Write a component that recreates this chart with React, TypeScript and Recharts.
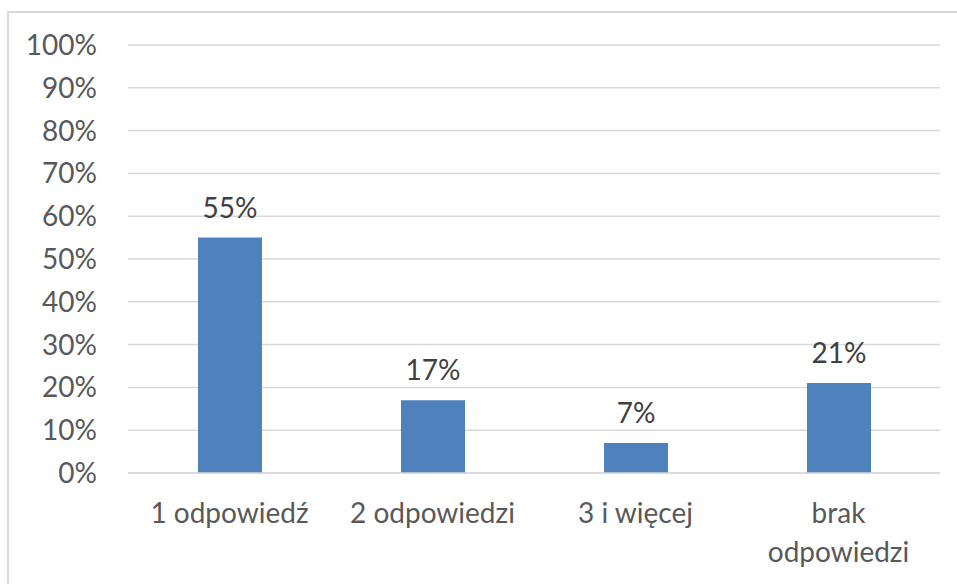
import { BarChart, Bar, XAxis, YAxis, CartesianGrid, LabelList } from 'recharts'

const categories = ['1 odpowiedź', '2 odpowiedzi', '3 i więcej', 'brak odpowiedzi']
const shares = [55, 17, 7, 21]
const yTicks = [0, 10, 20, 30, 40, 50, 60, 70, 80, 90, 100]

const data = categories.map((name, i) => ({ name, value: shares[i] }))

const FONT = 'Lato, "Open Sans", sans-serif'
const GRID = '#d9d9d9'
const FS = 28

// wrap long category names onto two lines, like the original
function CategoryTick(props: any) {
  const { x, y, payload } = props
  const text: string = payload.value
  const lines = text.length > 12 ? text.split(' ') : [text]
  return (
    <text x={x} y={y} textAnchor="middle" fill="#595959" fontSize={FS} fontFamily={FONT}>
      {lines.map((line, i) => (
        <tspan key={i} x={x} dy={i === 0 ? 50 : 39}>
          {line}
        </tspan>
      ))}
    </text>
  )
}

export default function App() {
  return (
    <div
      style={{
        position: 'absolute',
        left: 0,
        top: 0,
        width: 957,
        height: 584,
        overflow: 'hidden',
        background: '#fff',
      }}
    >
      <div
        style={{
          position: 'absolute',
          left: 7,
          top: 11,
          width: 980,
          height: 600,
          borderTop: `2px solid ${GRID}`,
          borderLeft: `2px solid ${GRID}`,
        }}
      />
      <div style={{ position: 'absolute', left: 0, top: 0 }}>
        <BarChart
          width={957}
          height={584}
          data={data}
          margin={{ top: 45, right: 17, left: 0, bottom: 0 }}
        >
          <CartesianGrid vertical={false} stroke={GRID} strokeWidth={1.5} />
          <XAxis
            dataKey="name"
            height={111}
            axisLine={{ stroke: GRID, strokeWidth: 1.5 }}
            tickLine={false}
            tickSize={0}
            tickMargin={0}
            interval={0}
            tick={<CategoryTick />}
          />
          <YAxis
            width={128}
            domain={[0, 100]}
            ticks={yTicks}
            axisLine={false}
            tickLine={false}
            tickSize={0}
            tickMargin={31}
            tickFormatter={(v: number) => `${v}%`}
            tick={{ fill: '#595959', fontSize: FS, fontFamily: FONT }}
          />
          <Bar dataKey="value" fill="#4f81bd" barSize={64} isAnimationActive={false}>
            <LabelList
              dataKey="value"
              position="top"
              offset={20}
              formatter={(v: any) => `${v}%`}
              fill="#404040"
              fontSize={FS}
              fontFamily={FONT}
            />
          </Bar>
        </BarChart>
      </div>
    </div>
  )
}
